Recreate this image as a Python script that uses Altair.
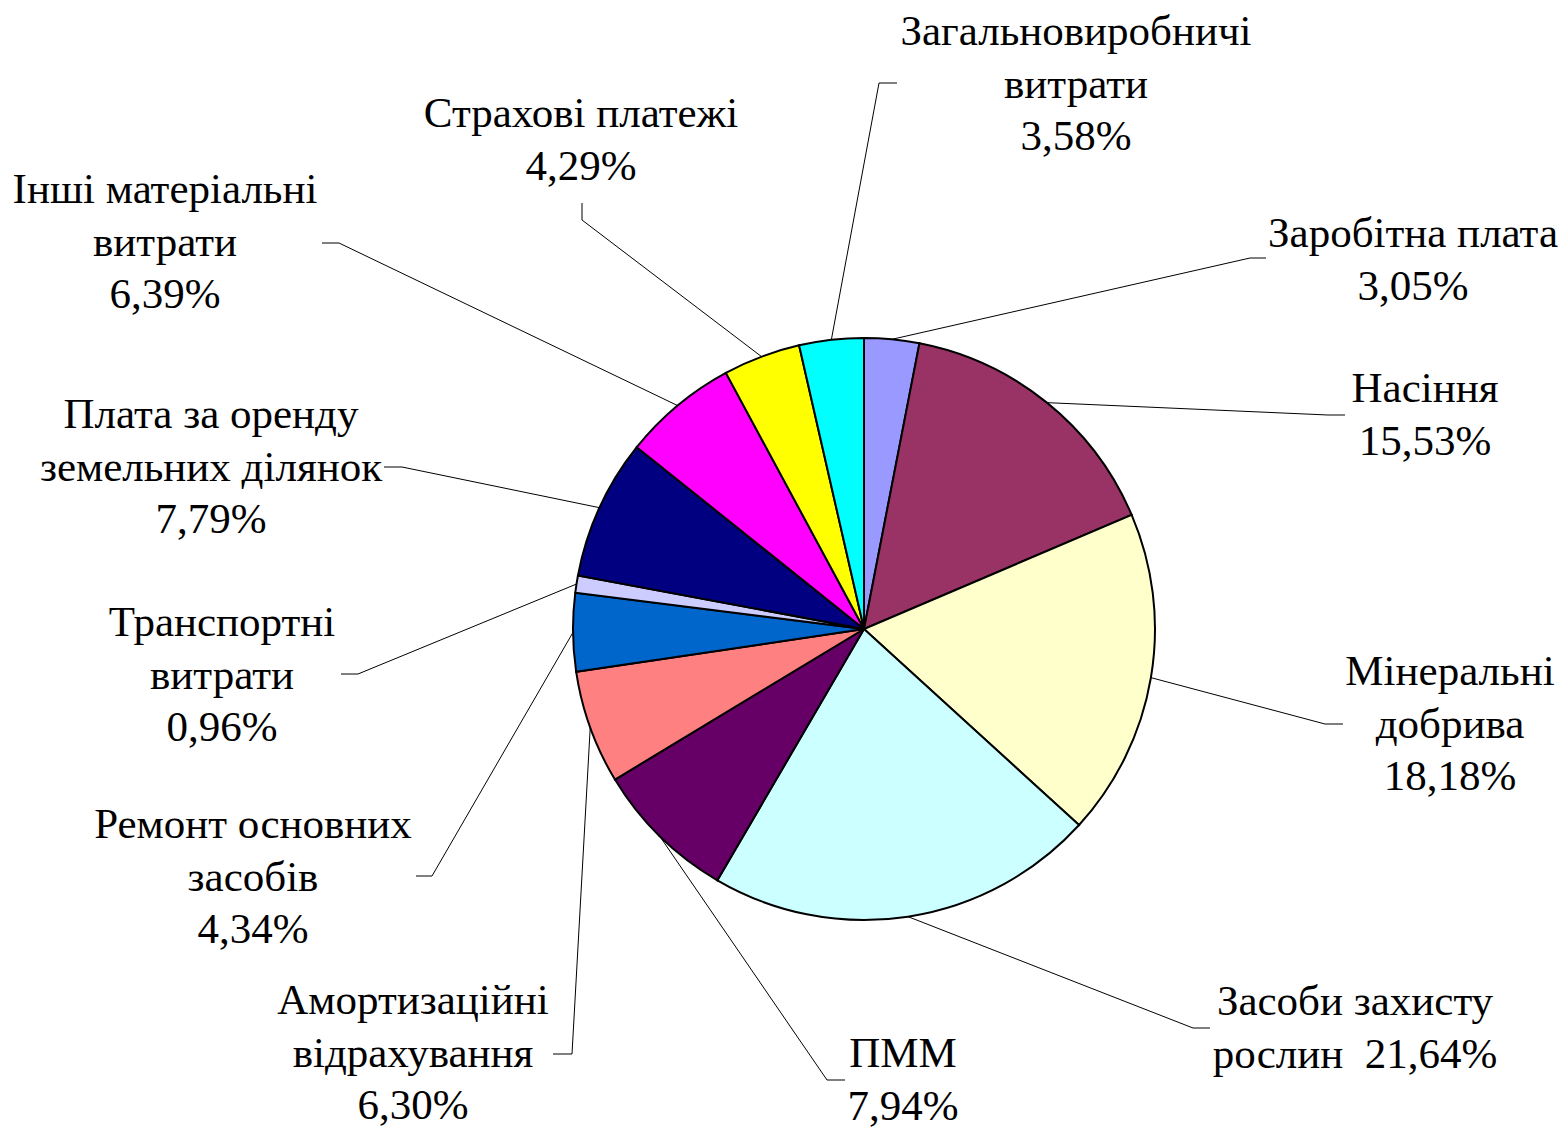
import altair as alt
import pandas as pd
import numpy as np

# ---- data ----
categories = ["Заробітна плата", "Насіння", "Мінеральні добрива", "Засоби захисту рослин",
              "ПММ", "Амортизаційні відрахування", "Ремонт основних засобів",
              "Транспортні витрати", "Плата за оренду земельних ділянок",
              "Інші матеріальні витрати", "Страхові платежі", "Загальновиробничі витрати"]
shares = [3.05, 15.53, 18.18, 21.64, 7.94, 6.30, 4.34, 0.96, 7.79, 6.39, 4.29, 3.58]
colors = ["#9999FF", "#993366", "#FFFFCC", "#CCFFFF", "#660066", "#FF8080",
          "#0066CC", "#CCCCFF", "#000080", "#FF00FF", "#FFFF00", "#00FFFF"]
label_templates = [
    ["Заробітна плата", "{p}"],
    ["Насіння", "{p}"],
    ["Мінеральні", "добрива", "{p}"],
    ["Засоби захисту", "рослин\u00a0 {p}"],
    ["ПММ", "{p}"],
    ["Амортизаційні", "відрахування", "{p}"],
    ["Ремонт основних", "засобів", "{p}"],
    ["Транспортні", "витрати", "{p}"],
    ["Плата за оренду", "земельних ділянок", "{p}"],
    ["Інші матеріальні", "витрати", "{p}"],
    ["Страхові платежі", "{p}"],
    ["Загальновиробничі", "витрати", "{p}"],
]

# ---- layout (reference pixel units) ----
X0, Y0 = 8, 11            # reference point drawn at the plot's top-left corner
W, H = 1550, 1122
CX, CY, R = 864, 632, 291
LINE_H = 52.5
FONT_SIZE = 43
label_pos = [(1413, 237), (1425, 392), (1450, 675), (1355, 1005), (903, 1057),
             (413, 1004), (253, 828), (222, 626), (211, 418), (165, 193),
             (581, 117), (1076, 35)]
leader_bends = [((1250, 261), (1266, 261)), ((1328, 418), (1345, 418)),
                ((1325, 727), (1343, 727)), ((1193, 1031), (1210, 1031)),
                ((827, 1083), (845, 1083)), ((572, 1057), (553, 1057)),
                ((432, 879), (416, 879)), ((358, 677), (341, 677)),
                ((402, 470), (384, 470)), ((339, 246), (322, 246)),
                ((582, 223), (582, 206)), ((879, 86), (897, 86))]

pie_df = pd.DataFrame({"category": categories, "share": shares,
                       "idx": list(range(len(categories)))})

# leader lines: start at slice edge at mid-angle
total = sum(shares)
cum = np.cumsum(shares)
rows = []
for i, cat in enumerate(categories):
    mid = (cum[i] - shares[i] / 2) / total * 2 * np.pi
    sx = CX + R * np.sin(mid)
    sy = CY - R * np.cos(mid)
    (bx, by), (ex, ey) = leader_bends[i]
    for k, (px, py) in enumerate([(sx, sy), (bx, by), (ex, ey)]):
        rows.append({"category": cat, "k": k, "px": float(px), "py": float(py)})
lines_df = pd.DataFrame(rows)

trows = []
for i, tmpl in enumerate(label_templates):
    pct = f"{shares[i]:.2f}".replace(".", ",") + "%"
    x0, y0 = label_pos[i]
    for j, t in enumerate(tmpl):
        trows.append({"category": categories[i], "line": j,
                      "text": t.replace("{p}", pct), "px": x0, "py": y0 + j * LINE_H})
text_df = pd.DataFrame(trows)

xs = alt.Scale(domain=[X0, X0 + W], nice=False, zero=False)
ys = alt.Scale(domain=[Y0, Y0 + H], nice=False, zero=False, reverse=True)

pie = alt.Chart(pie_df).mark_arc(radius=R, stroke="black", strokeWidth=2).encode(
    theta=alt.Theta("share:Q", stack=True),
    order=alt.Order("idx:Q"),
    color=alt.Color("category:N", scale=alt.Scale(domain=categories, range=colors), legend=None),
    x=alt.value(CX - X0),
    y=alt.value(CY - Y0),
)

leaders = alt.Chart(lines_df).mark_line(color="black", strokeWidth=1).encode(
    x=alt.X("px:Q", scale=xs, axis=None),
    y=alt.Y("py:Q", scale=ys, axis=None),
    detail="category:N",
    order="k:Q",
)

labels = alt.Chart(text_df).mark_text(
    font="Liberation Serif", fontSize=FONT_SIZE, color="black",
    align="center", baseline="middle"
).encode(
    x=alt.X("px:Q", scale=xs, axis=None),
    y=alt.Y("py:Q", scale=ys, axis=None),
    text="text:N",
)

chart = alt.layer(pie, leaders, labels).properties(
    width=W, height=H, padding=0,
    autosize=alt.AutoSizeParams(type="none"),
).configure_view(stroke=None)

chart.save("out.html", embed_options={"renderer": "svg", "actions": False})
